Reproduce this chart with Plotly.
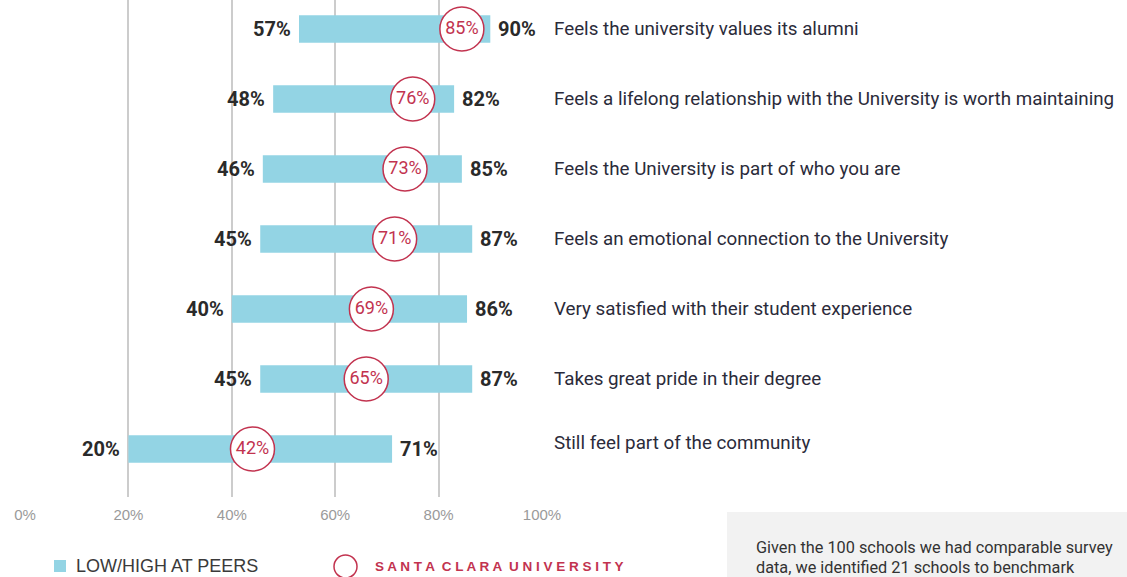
import plotly.graph_objects as go

categories = [
    "Feels the university values its alumni",
    "Feels a lifelong relationship with the University is worth maintaining",
    "Feels the University is part of who you are",
    "Feels an emotional connection to the University",
    "Very satisfied with their student experience",
    "Takes great pride in their degree",
    "Still feel part of the community",
]
peer_low = [53, 48, 46, 45.5, 40, 45.5, 20]        # bar start as drawn
peer_high = [90, 83, 84.5, 86.5, 85.5, 86.5, 71]   # bar end as drawn
low_labels = ["57%", "48%", "46%", "45%", "40%", "45%", "20%"]
high_labels = ["90%", "82%", "85%", "87%", "86%", "87%", "71%"]
scu_pos = [84.5, 75, 73.5, 71.5, 67, 66, 44]
scu_labels = ["85%", "76%", "73%", "71%", "69%", "65%", "42%"]
tick_vals = [0, 20, 40, 60, 80, 100]
tick_text = ["0%", "20%", "40%", "60%", "80%", "100%"]

W, H = 1127, 577
ML, MT = 25, 0
PW, PH = 517, 497

BLUE = "#93d4e4"
RED = "#c2334f"
NUM_FONT = "Roboto, Liberation Sans, Arial, sans-serif"

rows = list(range(len(categories)))

fig = go.Figure()
fig.add_trace(go.Bar(
    y=rows, x=[h - l for l, h in zip(peer_low, peer_high)], base=peer_low,
    orientation="h", width=0.39, marker=dict(color=BLUE, line=dict(width=0)),
    showlegend=False, hoverinfo="skip",
))
fig.add_trace(go.Scatter(
    y=rows, x=scu_pos, mode="markers+text", text=scu_labels,
    textposition="middle center",
    textfont=dict(family=NUM_FONT, size=18, color=RED),
    marker=dict(size=44, color="white", line=dict(color=RED, width=1.5)),
    showlegend=False, hoverinfo="skip",
))

ann = []
for i in rows:
    ann.append(dict(x=peer_low[i], y=i, xref="x", yref="y", text="<b>%s</b>" % low_labels[i],
                    showarrow=False, xanchor="right", xshift=-6,
                    font=dict(family=NUM_FONT, size=20, color="#2a2a2a")))
    ann.append(dict(x=peer_high[i], y=i, xref="x", yref="y", text="<b>%s</b>" % high_labels[i],
                    showarrow=False, xanchor="left", xshift=6,
                    font=dict(family=NUM_FONT, size=20, color="#2a2a2a")))
    ann.append(dict(x=100, y=i, xref="x", yref="y", text=categories[i],
                    showarrow=False, xanchor="left", xshift=10,
                    yshift=6 if i == len(categories) - 1 else 0,
                    font=dict(family=NUM_FONT, size=18.8, color="#2b2b3a")))


def px(x):
    return (x - ML) / PW


def py(y):
    return (MT + PH - y) / PH


shapes = []
# legend: blue square
shapes.append(dict(type="rect", xref="paper", yref="paper",
                   x0=px(54), x1=px(66), y0=py(572), y1=py(560),
                   fillcolor=BLUE, line=dict(width=0)))
ann.append(dict(x=px(74), y=py(566), xref="paper", yref="paper", text="LOW/HIGH AT PEERS",
                showarrow=False, xanchor="left", yanchor="middle",
                font=dict(family="Liberation Sans, Arial, sans-serif", size=18, color="#3a3a3a")))
# legend: red circle
shapes.append(dict(type="circle", xref="paper", yref="paper",
                   x0=px(334), x1=px(357), y0=py(578), y1=py(555),
                   fillcolor="white", line=dict(color=RED, width=1.5)))
ann.append(dict(x=px(373), y=py(566), xref="paper", yref="paper",
                text="<b>S A N T A\u2002C L A R A\u2002U N I V E R S I T Y</b>",
                showarrow=False, xanchor="left", yanchor="middle",
                font=dict(family="Liberation Sans, Arial, sans-serif", size=13.5, color=RED)))
# grey info box
shapes.append(dict(type="rect", xref="paper", yref="paper",
                   x0=px(727), x1=px(1130), y0=py(580), y1=py(512),
                   fillcolor="#f2f2f2", line=dict(width=0), layer="below"))
ann.append(dict(x=px(754), y=py(547), xref="paper", yref="paper",
                text="Given the 100 schools we had comparable survey",
                showarrow=False, xanchor="left", yanchor="middle",
                font=dict(family=NUM_FONT, size=16.3, color="#333333")))
ann.append(dict(x=px(754), y=py(567), xref="paper", yref="paper",
                text="data, we identified 21 schools to benchmark",
                showarrow=False, xanchor="left", yanchor="middle",
                font=dict(family=NUM_FONT, size=16.3, color="#333333")))

fig.update_layout(
    width=W, height=H, margin=dict(l=ML, r=W - ML - PW, t=MT, b=H - MT - PH),
    paper_bgcolor="white", plot_bgcolor="white",
    xaxis=dict(range=[0, 100], tickvals=tick_vals, ticktext=tick_text,
               showgrid=True, gridcolor="#cccccc", gridwidth=2, zeroline=False,
               showline=False, ticks="", ticklabelstandoff=7,
               tickfont=dict(family="Liberation Sans, Arial, sans-serif", size=15, color="#9a9a9a"),
               fixedrange=True),
    yaxis=dict(range=[(PH - 29) / 70, -29 / 70], showgrid=False, zeroline=False,
               showticklabels=False, fixedrange=True),
    annotations=ann, shapes=shapes, showlegend=False,
)
fig.write_html("out.html", config={"displayModeBar": False},
               post_script="document.body.style.margin='0px';")
